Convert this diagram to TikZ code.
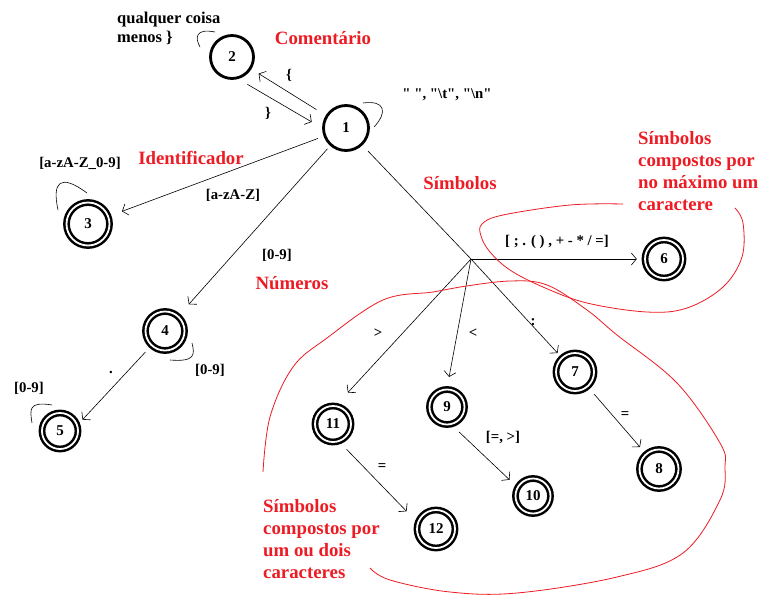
\documentclass[tikz,border=0pt]{standalone}
\usepackage{fontspec}
\setmainfont{Liberation Serif}
\usetikzlibrary{arrows.meta}
\usetikzlibrary{positioning}
\usetikzlibrary{calc}
\definecolor{vermelho}{RGB}{237,28,36}
\tikzset{
    estado/.style = {circle, line width=2.8pt, draw=black, minimum size=43pt, inner sep=0pt, font=\bfseries\fontsize{15}{15}\selectfont},
    final/.style = {circle, line width=2.5pt, draw=black, double=white, double distance=1.8pt, minimum size=38pt, inner sep=0pt, font=\bfseries\fontsize{15}{15}\selectfont},
    trans/.style = {-{Straight Barb[length=5pt,width=12pt]}, line width=0.6pt},
    laco/.style = {line width=0.6pt},
    rotulo/.style = {font=\bfseries\fontsize{14.8}{19}\selectfont, align=left, inner sep=0pt},
    grupo/.style = {font=\bfseries\fontsize{18.8}{22}\selectfont, text=vermelho, align=left, inner sep=0pt},
    contorno/.style = {draw=vermelho, line width=0.8pt}
}

\begin{document}
\begin{tikzpicture}[x=1pt, y=-1pt]
  \useasboundingbox[fill=white] (0,0) rectangle (769,611);

  % estados
  \node[estado, minimum size=45pt] (q1) at (346,128) {1};
  \node[estado] (q2) at (232,57) {2};
  \node[final, minimum size=43pt] (q3) at (88,224) {3};
  \node[final, minimum size=39pt] (q4) at (165,331) {4};
  \node[final, minimum size=36pt] (q5) at (60,431) {5};
  \node[final] (q6) at (664,259) {6};
  \node[final] (q7) at (575,372) {7};
  \node[final, minimum size=39pt] (q8) at (659,469) {8};
  \node[final, minimum size=35pt] (q9) at (447,407) {9};
  \node[final, minimum size=35pt] (q10) at (533,496) {10};
  \node[final, minimum size=36pt] (q11) at (333,424) {11};
  \node[final] (q12) at (436,529) {12};
  \coordinate (ramo) at (471,259);

  % transicoes
  \draw[trans, shorten <=11pt, shorten >=8.5pt] (q1) -- (q2);
  \draw[trans, shorten <=10.5pt, shorten >=12pt] (q2.-74) -- (q1.180);
  \draw[trans, shorten <=6pt, shorten >=13.5pt] (q1) -- (q3);
  \draw[trans, shorten <=4pt, shorten >=15pt] (q1) -- (q4);
  \draw[trans, shorten <=8pt, shorten >=6.5pt] (q4) -- (q5.20);
  \draw[laco, shorten <=8pt] (q1) -- (ramo);
  \draw[trans, shorten >=7pt] (ramo) -- (q6);
  \draw[trans, shorten >=17pt] (ramo) -- (q11.80);
  \draw[trans, shorten >=11.5pt] (ramo) -- (q9.north);
  \draw[trans, shorten >=5.5pt] (ramo) -- (q7);
  \draw[trans, shorten <=9pt, shorten >=8.3pt] (q7) -- (q8);
  \draw[trans, shorten <=10pt, shorten >=10pt] (q9.-75) -- (q10.150);
  \draw[trans, shorten <=10pt, shorten >=15pt] (q11.-70) -- (q12.160);

  % lacos
  \draw[laco] ($(q1)+(17,-25)$) .. controls ($(q1)+(39,-28)$) and ($(q1)+(42,-16)$) .. ($(q1)+(28,-1)$);
  \draw[laco] ($(q2)+(-17,-25)$) .. controls ($(q2)+(-37,-29)$) and ($(q2)+(-37,-19)$) .. ($(q2)+(-32,-10)$);
  \draw[laco] ($(q3)+(-1,-31)$) .. controls ($(q3)+(-28,-51)$) and ($(q3)+(-36,-42)$) .. ($(q3)+(-30,-14)$);
  \draw[laco] ($(q4)+(5,29)$) .. controls ($(q4)+(30,31)$) and ($(q4)+(30,24)$) .. ($(q4)+(27,12)$);
  \draw[laco] ($(q5)+(-8,-26)$) .. controls ($(q5)+(-32,-30)$) and ($(q5)+(-30,-21)$) .. ($(q5)+(-28,-8)$);

  % rotulos
  \node[rotulo, anchor=north west, font=\bfseries\fontsize{16.5}{19}\selectfont] (lq2) at (117,12) {qualquer coisa\\menos \}};
  \node[rotulo] (l12) at (289,75) {\{};
  \node[rotulo] (l21) at (268,113) {\}};
  \node[rotulo] (lq1) at (447,95) {\textquotedbl\ \textquotedbl, \textquotedbl\textbackslash t\textquotedbl, \textquotedbl\textbackslash n\textquotedbl};
  \node[rotulo] (lq3) at (80,163) {[a-zA-Z\_0-9]};
  \node[rotulo] (l13) at (233,195) {[a-zA-Z]};
  \node[rotulo] (l14) at (277,255) {[0-9]};
  \node[rotulo] (lq4) at (210,370) {[0-9]};
  \node[rotulo] (l45) at (111,373) {.};
  \node[rotulo] (lq5) at (29,388) {[0-9]};
  \node[rotulo] (l16) at (557,242) {[ ; . ( ) , + - * / =]};
  \node[rotulo] (l111) at (378,333) {>};
  \node[rotulo] (l19) at (473,333) {<};
  \node[rotulo] (l17) at (533,322) {:};
  \node[rotulo] (l78) at (625,415) {=};
  \node[rotulo] (l910) at (503,438) {[=, >]};
  \node[rotulo] (l1112) at (382,467) {=};

  % grupos
  \node[grupo] (gcom) at (323,38) {Comentário};
  \node[grupo] (gid) at (191,158) {Identificador};
  \node[grupo] (gnum) at (292,283) {Números};
  \node[grupo] (gsim) at (460,183) {Símbolos};
  \node[grupo, anchor=north west] (gum) at (638,131) {Símbolos\\compostos por\\no máximo um\\caractere};
  \node[grupo, anchor=north west] (gdois) at (263,499) {Símbolos\\compostos por\\um ou dois\\caracteres};

  % contornos
  \draw[contorno] plot[smooth, tension=0.6] coordinates {(623,204) (570,205) (503,215) (482,224) (481,236) (490,252) (510,270) (543,287) (587,303) (647,312) (687,308) (723,287) (742,257) (743,223) (735,208)};
  \draw[contorno] plot[smooth, tension=0.6] coordinates {(263,472) (270,417) (293,367) (327,338) (383,300) (433,292) (460,287) (510,281) (547,285) (587,310) (617,335) (677,383) (720,443) (725,467) (720,500) (683,553) (617,577) (517,593) (450,592) (390,580) (370,568)};
\end{tikzpicture}
\end{document}
